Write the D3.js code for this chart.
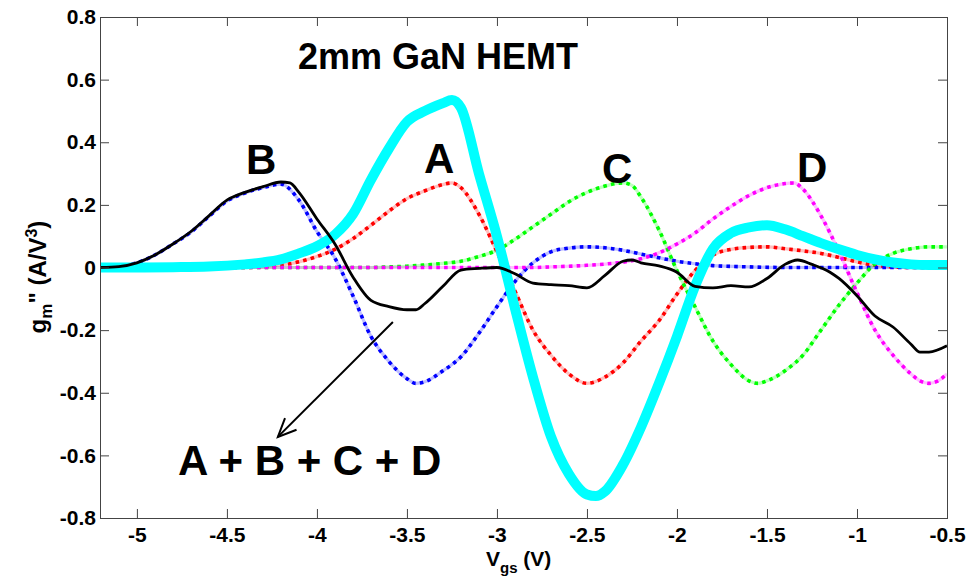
<!DOCTYPE html>
<html><head><meta charset="utf-8">
<script src="https://cdn.jsdelivr.net/npm/d3@7"></script>
<style>
body{margin:0;background:#fff}
svg text{font-family:Arial,"Liberation Sans",Helvetica,sans-serif;font-weight:bold;fill:#000}
</style>
</head><body>
<svg id="chart" width="967" height="586"></svg>
<script>
// ---- tick values / labels ----
const xTickValues = [-5,-4.5,-4,-3.5,-3,-2.5,-2,-1.5,-1,-0.5];
const xTickLabels = ["-5","-4.5","-4","-3.5","-3","-2.5","-2","-1.5","-1","-0.5"];
const yTickValues = [-0.8,-0.6,-0.4,-0.2,0,0.2,0.4,0.6,0.8];
const yTickLabels = ["-0.8","-0.6","-0.4","-0.2","0","0.2","0.4","0.6","0.8"];

// ---- series: A (red) ----
const aV = [-5.2,-4.4,-4.3,-4.2,-4.1,-4.0,-3.9,-3.8,-3.7,-3.6,-3.5,-3.4,-3.3,-3.25,-3.2,-3.1,-3.0,-2.9,-2.8,-2.7,-2.6,-2.5,-2.4,-2.3,-2.2,-2.1,-2.0,-1.9,-1.8,-1.7,-1.6,-1.5,-1.4,-1.3,-1.2,-1.1,-1.0,-0.9,-0.8,-0.7,-0.5];
const aG = [0,0,0.003,0.008,0.018,0.035,0.058,0.092,0.135,0.18,0.22,0.245,0.265,0.27,0.255,0.17,0.05,-0.075,-0.2,-0.28,-0.34,-0.37,-0.35,-0.305,-0.235,-0.17,-0.085,-0.01,0.04,0.058,0.064,0.066,0.06,0.053,0.045,0.032,0.018,0.007,0.002,0,0];

// ---- series: B (blue) ----
const bV = [-5.2,-5.1,-5.0,-4.9,-4.8,-4.7,-4.6,-4.5,-4.4,-4.3,-4.2,-4.1,-4.0,-3.9,-3.8,-3.7,-3.6,-3.5,-3.45,-3.4,-3.3,-3.2,-3.1,-3.0,-2.9,-2.8,-2.7,-2.6,-2.5,-2.4,-2.3,-2.2,-2.1,-2.0,-1.9,-1.8,-1.6,-1.4,-0.5];
const bG = [0,0.003,0.015,0.04,0.075,0.113,0.163,0.212,0.238,0.255,0.266,0.215,0.115,0.03,-0.09,-0.22,-0.3,-0.355,-0.37,-0.365,-0.33,-0.285,-0.21,-0.125,-0.045,0.015,0.05,0.062,0.066,0.063,0.055,0.043,0.031,0.02,0.012,0.006,0.002,0,0];

// ---- series: C (green) ----
const cV = [-5.2,-3.7,-3.6,-3.5,-3.4,-3.3,-3.2,-3.1,-3.0,-2.9,-2.8,-2.7,-2.6,-2.5,-2.4,-2.3,-2.25,-2.2,-2.1,-2.0,-1.9,-1.8,-1.7,-1.6,-1.55,-1.5,-1.4,-1.3,-1.2,-1.1,-1.0,-0.9,-0.8,-0.7,-0.6,-0.5];
const cG = [0,0,0.002,0.004,0.008,0.013,0.02,0.035,0.055,0.09,0.13,0.17,0.21,0.24,0.26,0.27,0.262,0.225,0.12,-0.01,-0.125,-0.235,-0.31,-0.362,-0.37,-0.362,-0.33,-0.28,-0.2,-0.12,-0.05,0.012,0.045,0.06,0.066,0.066];

// ---- series: D (magenta) ----
const dV = [-5.2,-2.8,-2.7,-2.6,-2.5,-2.4,-2.3,-2.2,-2.1,-2.0,-1.9,-1.8,-1.7,-1.6,-1.5,-1.4,-1.35,-1.3,-1.2,-1.1,-1.0,-0.9,-0.8,-0.7,-0.65,-0.6,-0.55,-0.5];
const dG = [0,0,0.002,0.004,0.007,0.011,0.017,0.028,0.047,0.075,0.11,0.155,0.195,0.23,0.255,0.268,0.27,0.25,0.165,0.05,-0.08,-0.2,-0.28,-0.34,-0.362,-0.37,-0.362,-0.34];

// ---- series: A + B + C + D (black) ----
const kV = [-5.2,-5.1,-5.0,-4.9,-4.8,-4.7,-4.6,-4.5,-4.4,-4.3,-4.2,-4.15,-4.1,-4.0,-3.9,-3.8,-3.7,-3.6,-3.5,-3.45,-3.4,-3.3,-3.2,-3.1,-3.0,-2.9,-2.8,-2.7,-2.6,-2.5,-2.4,-2.3,-2.25,-2.2,-2.1,-2.0,-1.9,-1.8,-1.7,-1.6,-1.5,-1.4,-1.33,-1.25,-1.15,-1.1,-1.0,-0.9,-0.8,-0.7,-0.65,-0.6,-0.5];
const kG = [0,0.003,0.015,0.04,0.075,0.115,0.165,0.215,0.24,0.258,0.273,0.27,0.24,0.155,0.075,-0.03,-0.105,-0.125,-0.135,-0.135,-0.115,-0.06,-0.008,-0.003,0,-0.02,-0.05,-0.055,-0.058,-0.065,-0.025,0.02,0.024,0.015,0.005,-0.015,-0.06,-0.065,-0.058,-0.062,-0.035,0.01,0.024,0.01,-0.015,-0.035,-0.09,-0.155,-0.19,-0.245,-0.27,-0.27,-0.25];

// ---- series: measured 2mm GaN HEMT (cyan) ----
const mV = [-5.2,-5.0,-4.8,-4.6,-4.4,-4.3,-4.2,-4.1,-4.0,-3.9,-3.8,-3.7,-3.6,-3.5,-3.4,-3.3,-3.25,-3.2,-3.1,-3.0,-2.9,-2.8,-2.7,-2.6,-2.5,-2.45,-2.4,-2.3,-2.2,-2.1,-2.0,-1.9,-1.8,-1.7,-1.6,-1.5,-1.4,-1.3,-1.2,-1.1,-1.0,-0.9,-0.8,-0.7,-0.6,-0.5];
const mG = [0,0,0.001,0.003,0.01,0.016,0.026,0.045,0.068,0.105,0.17,0.28,0.38,0.465,0.5,0.525,0.535,0.51,0.3,0.1,-0.13,-0.35,-0.54,-0.66,-0.725,-0.73,-0.715,-0.63,-0.51,-0.37,-0.22,-0.06,0.06,0.11,0.128,0.135,0.122,0.1,0.078,0.058,0.04,0.026,0.016,0.01,0.008,0.008];

// ---- labels ----
const titleText = "2mm GaN HEMT";
const seriesNames = ["A","B","C","D"];
const sumText = "A + B + C + D";

// ---- layout ----
const m = {left:100, right:947, top:17, bottom:518};
const svg = d3.select("#chart");
const x = d3.scaleLinear().domain([-5.205,-0.5]).range([m.left,m.right]);
const y = d3.scaleLinear().domain([-0.8,0.8]).range([m.bottom,m.top]);

const zip = (V,G) => V.map((v,i)=>({v, g:G[i]}));
const line = d3.line().x(d=>x(d.v)).y(d=>y(d.g)).curve(d3.curveMonotoneX);

const plot = svg.append("g");
plot.append("clipPath").attr("id","clip").append("rect")
  .attr("x",m.left).attr("y",m.top).attr("width",m.right-m.left).attr("height",m.bottom-m.top);
const lines = plot.append("g").attr("clip-path","url(#clip)");

const dashed = [
  {data:zip(aV,aG), color:"#ff0000"},
  {data:zip(bV,bG), color:"#0000ff"},
  {data:zip(cV,cG), color:"#00ff00"},
  {data:zip(dV,dG), color:"#ff00ff"}
];

dashed.forEach(s=>{
  lines.append("path").attr("d",line(s.data)).attr("fill","none")
    .attr("stroke",s.color).attr("stroke-opacity",0.25).attr("stroke-width",3.2);
});
dashed.forEach(s=>{
  lines.append("path").attr("d",line(s.data)).attr("fill","none")
    .attr("stroke",s.color).attr("stroke-width",3.6)
    .attr("stroke-dasharray","3.6,4.2");
});

lines.append("path").attr("d",line(zip(mV,mG))).attr("fill","none")
  .attr("stroke","#00ffff").attr("stroke-width",10)
  .attr("stroke-linejoin","round").attr("stroke-linecap","round");

lines.append("path").attr("d",line(zip(kV,kG))).attr("fill","none")
  .attr("stroke","#000").attr("stroke-width",2.8).attr("stroke-linejoin","round");

// ---- axes ----
const axColor = "#444";
const fmtX = (d,i)=>xTickLabels[i], fmtY = (d,i)=>yTickLabels[i];
const gx = svg.append("g").attr("transform",`translate(0,${m.bottom})`)
  .call(d3.axisBottom(x).tickValues(xTickValues).tickFormat(fmtX).tickSizeInner(-9).tickSizeOuter(0).tickPadding(9));
const gxt = svg.append("g").attr("transform",`translate(0,${m.top})`)
  .call(d3.axisTop(x).tickValues(xTickValues).tickFormat("").tickSizeInner(-9).tickSizeOuter(0));
const gy = svg.append("g").attr("transform",`translate(${m.left},0)`)
  .call(d3.axisLeft(y).tickValues(yTickValues).tickFormat(fmtY).tickSizeInner(-9).tickSizeOuter(0).tickPadding(4));
const gyr = svg.append("g").attr("transform",`translate(${m.right},0)`)
  .call(d3.axisRight(y).tickValues(yTickValues).tickFormat("").tickSizeInner(-9).tickSizeOuter(0));
[gx,gxt,gy,gyr].forEach(g=>{
  g.select(".domain").remove();
  g.selectAll(".tick line").attr("stroke",axColor).attr("stroke-width",1);
  g.selectAll("text").attr("font-size",21).attr("font-family","Arial, 'Liberation Sans', sans-serif").attr("font-weight","bold").attr("fill","#000");
});
svg.append("rect").attr("x",m.left+0.5).attr("y",m.top+0.5)
  .attr("width",m.right-m.left).attr("height",m.bottom-m.top)
  .attr("fill","none").attr("stroke",axColor).attr("stroke-width",1);

// x axis label
const xl = svg.append("text").attr("x",486).attr("y",566).attr("font-size",21);
xl.append("tspan").text("V");
xl.append("tspan").attr("font-size",15).attr("dy",7).text("gs");
xl.append("tspan").attr("dy",-7).text(" (V)");

// y axis label
const yl = svg.append("text").attr("transform","translate(46,277) rotate(-90)")
  .attr("text-anchor","middle").attr("font-size",24);
yl.append("tspan").text("g");
yl.append("tspan").attr("font-size",17).attr("dy",6).text("m");
yl.append("tspan").attr("dy",-6).text("\" (A/V");
yl.append("tspan").attr("font-size",16).attr("dy",-9).text("3");
yl.append("tspan").attr("dy",9).text(")");

// ---- annotations ----
svg.append("text").attr("x",298).attr("y",69).attr("font-size",36).text(titleText);
const letterPos = [{t:seriesNames[0],x:424,y:173},{t:seriesNames[1],x:246,y:174},{t:seriesNames[2],x:602,y:183},{t:seriesNames[3],x:797,y:182}];
letterPos.forEach(p=>svg.append("text").attr("x",p.x).attr("y",p.y).attr("font-size",42).text(p.t));
svg.append("text").attr("x",178).attr("y",475).attr("font-size",42).text(sumText);

// arrow (in data units)
const arrowFrom = {v:-3.578, g:-0.174}, arrowTo = {v:-4.217, g:-0.541};
const x1 = x(arrowFrom.v), y1 = y(arrowFrom.g), x2 = x(arrowTo.v), y2 = y(arrowTo.g);
svg.append("line").attr("x1",x1).attr("y1",y1).attr("x2",x2).attr("y2",y2)
  .attr("stroke","#000").attr("stroke-width",2);
const ang = Math.atan2(y2-y1,x2-x1), hl = 20, ha = 0.42;
const p1 = [x2-hl*Math.cos(ang-ha), y2-hl*Math.sin(ang-ha)];
const p2 = [x2-hl*Math.cos(ang+ha), y2-hl*Math.sin(ang+ha)];
svg.append("path").attr("d",`M${p1[0]},${p1[1]}L${x2},${y2}L${p2[0]},${p2[1]}`)
  .attr("fill","none").attr("stroke","#000").attr("stroke-width",2);
</script>
</body></html>
